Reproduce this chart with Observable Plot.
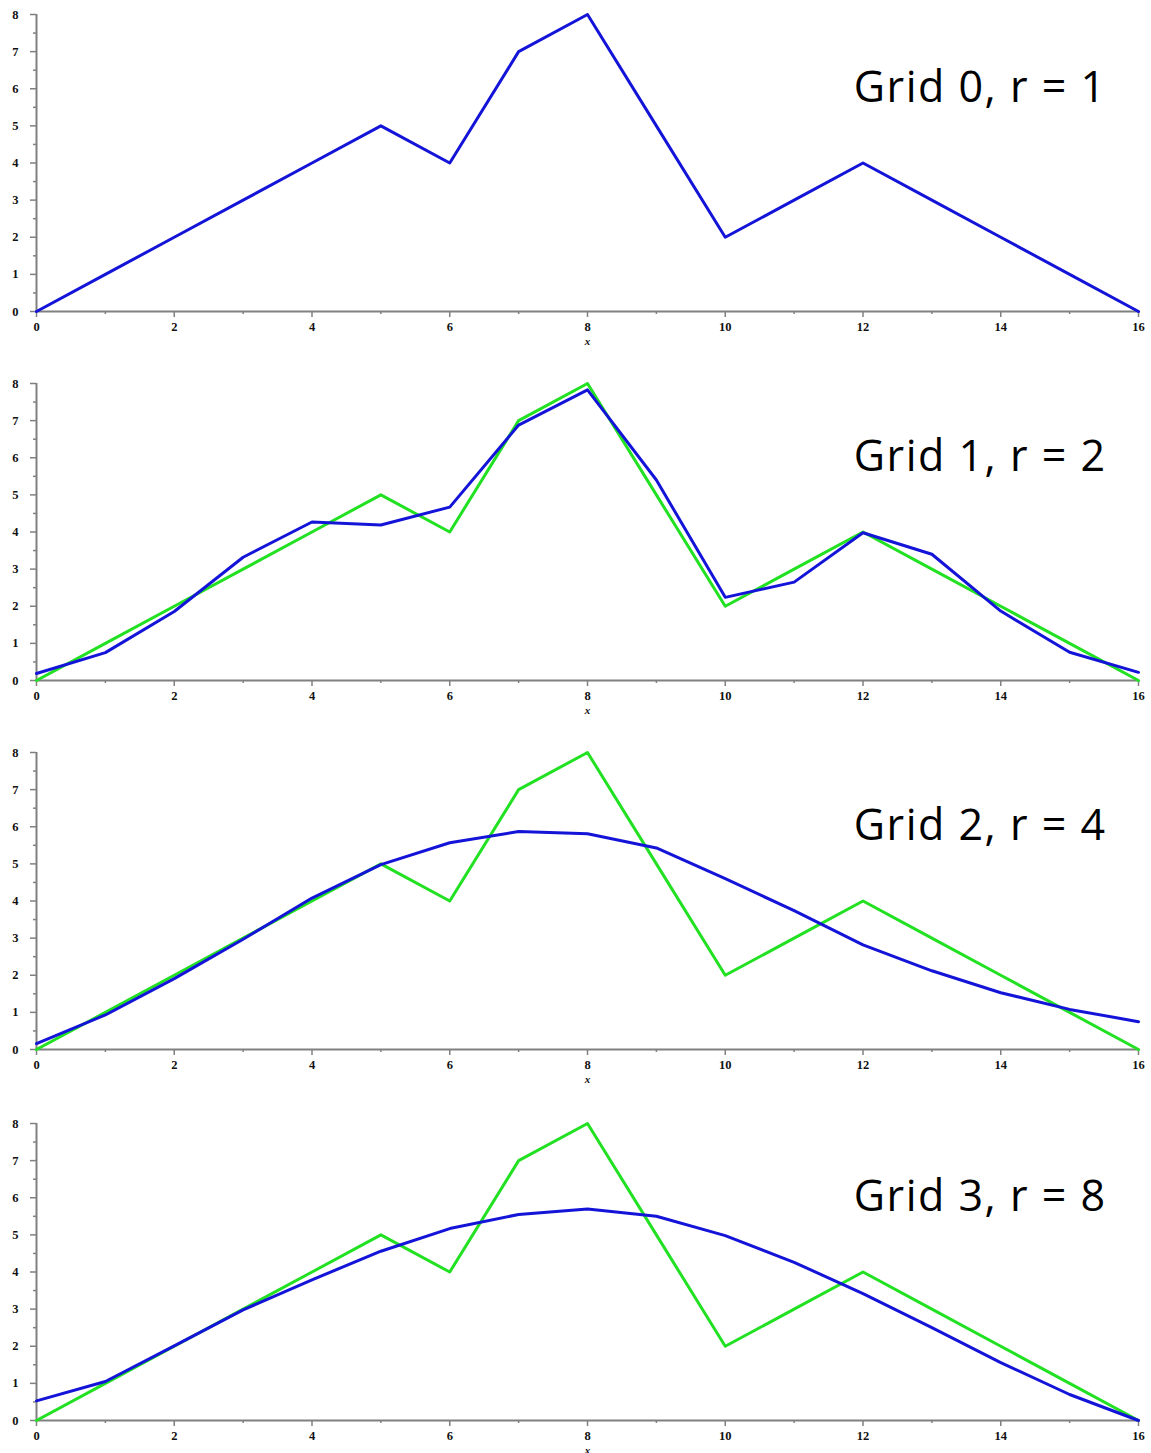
<!DOCTYPE html>
<html>
<head>
<meta charset="utf-8">
<script src="https://cdn.jsdelivr.net/npm/d3@7"></script>
<script src="https://cdn.jsdelivr.net/npm/@observablehq/plot@0.6"></script>
<style>
  html, body { margin: 0; padding: 0; background: #fff; overflow: hidden; }
  #charts svg { display: block; }
</style>
</head>
<body>
<div id="charts"></div>
<script>
// x positions (grid nodes)
const xValues = [0, 1, 2, 3, 4, 5, 6, 7, 8, 9, 10, 11, 12, 13, 14, 15, 16];
// original function (green reference line)
const original = [0, 1, 2, 3, 4, 5, 4, 7, 8, 5, 2, 3, 4, 3, 2, 1, 0];
// smoothed results (blue lines)
const grid0 = [0, 1, 2, 3, 4, 5, 4, 7, 8, 5, 2, 3, 4, 3, 2, 1, 0];
const grid1 = [0.19, 0.75, 1.86, 3.32, 4.27, 4.19, 4.67, 6.88, 7.83, 5.4, 2.24, 2.65, 3.98, 3.40, 1.87, 0.76, 0.22];
const grid2 = [0.16, 0.93, 1.91, 2.97, 4.08, 4.98, 5.57, 5.87, 5.81, 5.43, 4.6, 3.74, 2.82, 2.12, 1.53, 1.08, 0.75];
const grid3 = [0.53, 1.05, 2.01, 2.98, 3.79, 4.56, 5.17, 5.55, 5.70, 5.5, 4.98, 4.26, 3.42, 2.5, 1.56, 0.7, 0.0];
const titles = ["Grid 0, r = 1", "Grid 1, r = 2", "Grid 2, r = 4", "Grid 3, r = 8"];
const showOriginal = [false, true, true, true];
const blueSeries = [grid0, grid1, grid2, grid3];
const panelHeights = [369, 369, 371, 370];

// tick labels
const xMajor = [0, 2, 4, 6, 8, 10, 12, 14, 16];
const xMinor = [1, 3, 5, 7, 9, 11, 13, 15];
const yMajor = [0, 1, 2, 3, 4, 5, 6, 7, 8];
const yMinor = [0.5, 1.5, 2.5, 3.5, 4.5, 5.5, 6.5, 7.5];

const axisColor = "#808080";
const tickFont = "'Liberation Serif', 'DejaVu Serif', serif";

const container = document.getElementById("charts");

blueSeries.forEach((series, i) => {
  const blue = xValues.map((x, k) => ({x, y: series[k]}));
  const green = xValues.map((x, k) => ({x, y: original[k]}));
  const marks = [
    // axis lines
    Plot.ruleY([0], {stroke: axisColor, strokeWidth: 2}),
    Plot.ruleX([0], {stroke: axisColor, strokeWidth: 2}),
    Plot.axisX({ticks: xMajor, tickSize: 6, tickPadding: 5, stroke: axisColor, strokeWidth: 1.5,
      fill: "#111", fontSize: 12.5, fontWeight: "bold", fontFamily: tickFont, label: null, tickFormat: d => String(d)}),
    Plot.axisX({ticks: xMinor, tickSize: 3, stroke: axisColor, strokeWidth: 1.5, tickFormat: () => "", label: null}),
    Plot.axisY({ticks: yMajor, tickSize: 6, tickPadding: 12, stroke: axisColor, strokeWidth: 1.5,
      fill: "#111", fontSize: 12.5, fontWeight: "bold", fontFamily: tickFont, label: null, tickFormat: d => String(d)}),
    Plot.axisY({ticks: yMinor, tickSize: 3, stroke: axisColor, strokeWidth: 1.5, tickFormat: () => "", label: null}),
    Plot.text(["x"], {frameAnchor: "bottom", dy: 33, fontStyle: "italic", fontWeight: "bold",
      fontFamily: tickFont, fontSize: 11, fill: "#111"})
  ];
  if (showOriginal[i]) {
    marks.push(Plot.line(green, {x: "x", y: "y", stroke: "#22e022", strokeWidth: 3}));
  }
  marks.push(Plot.line(blue, {x: "x", y: "y", stroke: "#1414d8", strokeWidth: 3}));
  marks.push(Plot.text([titles[i]], {frameAnchor: "top-right", textAnchor: "end", lineAnchor: "bottom",
    dx: -32, dy: 87, fontSize: 43, fontFamily: "'Open Sans', 'Noto Sans', sans-serif", fill: "#000"}));

  const chart = Plot.plot({
    width: 1151,
    height: panelHeights[i],
    marginTop: 14,
    marginLeft: 36,
    marginRight: 13,
    marginBottom: panelHeights[i] - 311,
    x: {domain: [0, 16]},
    y: {domain: [0, 8]},
    style: {background: "#fff", overflow: "visible"},
    marks
  });
  // widen title spacing to match reference letterform width
  d3.select(chart).selectAll("text").filter(function() { return titles.includes(this.textContent); })
    .style("letter-spacing", "1.5px");
  container.appendChild(chart);
});
</script>
</body>
</html>
